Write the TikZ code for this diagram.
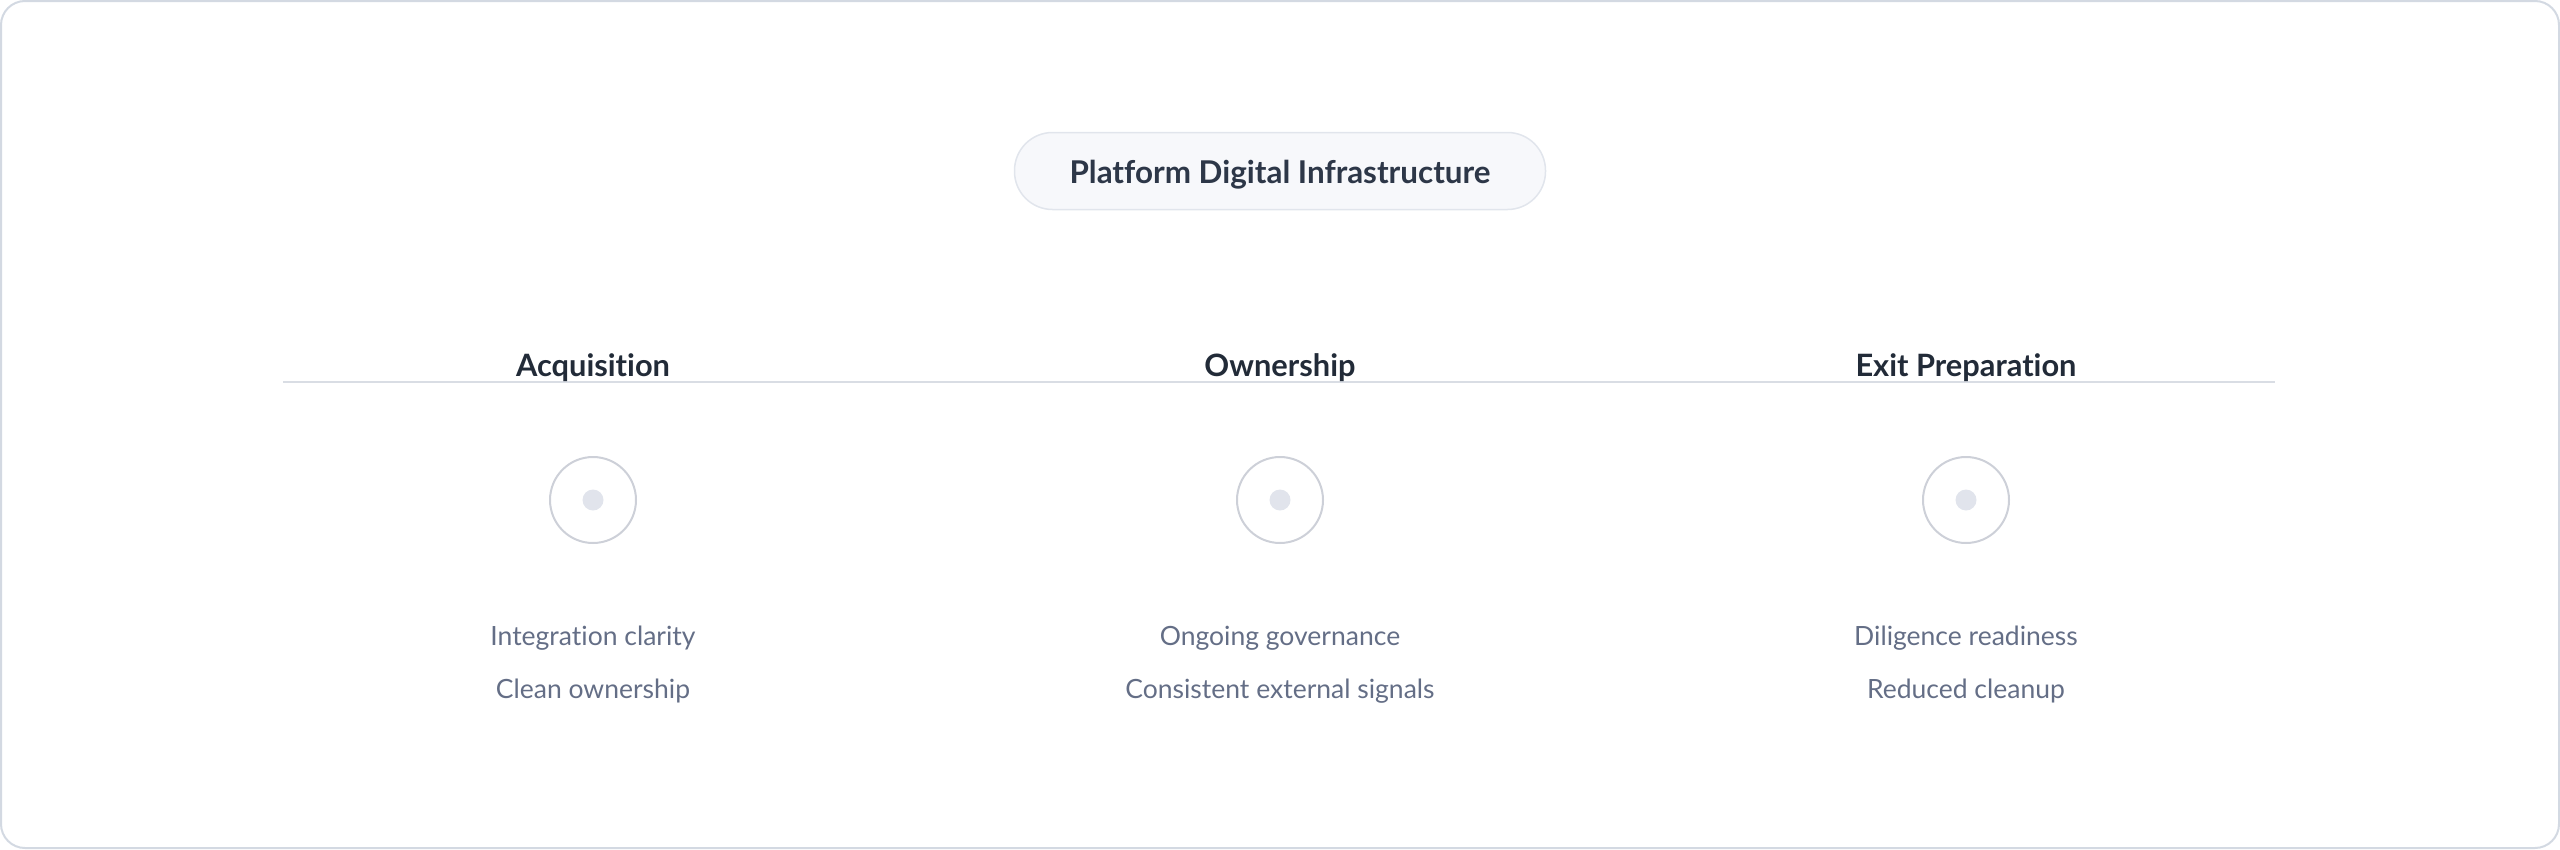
\documentclass[tikz,border=0pt]{standalone}
\usepackage{fontspec}
\setmainfont{Lato}[Ligatures=NoCommon]
\definecolor{frame}{HTML}{D3D9E2}
\definecolor{pillfill}{HTML}{F7F8FB}
\definecolor{pilldraw}{HTML}{E1E5EC}
\definecolor{titletext}{HTML}{2D3748}
\definecolor{headtext}{HTML}{222B38}
\definecolor{bodytext}{HTML}{646E86}
\definecolor{rule}{HTML}{D9DDE4}
\definecolor{ring}{HTML}{CDD0D8}
\definecolor{dot}{HTML}{E1E4EC}
\tikzset{
  pill/.style={draw=pilldraw, line width=1.5pt, fill=pillfill, rounded corners=38pt,
    minimum width=531pt, minimum height=77pt, inner sep=0pt},
  pilltext/.style={anchor=base, inner sep=0pt, text=titletext, font=\fontsize{31.4}{36}\selectfont\bfseries},
  phase/.style={anchor=base, text=headtext, inner sep=0pt, font=\fontsize{30.8}{36}\selectfont\bfseries},
  ringnode/.style={circle, draw=ring, line width=2pt, minimum size=86pt, inner sep=0pt},
  dotnode/.style={circle, fill=dot, minimum size=21pt, inner sep=0pt},
  item/.style={anchor=base, text=bodytext, inner sep=0pt, font=\fontsize{26.5}{30}\selectfont},
}
\begin{document}
\begin{tikzpicture}[x=1pt,y=-1pt]
\useasboundingbox (0,0) rectangle (2560,849);
\draw[frame, line width=2pt, rounded corners=24pt] (1,1) rectangle (2559,848);
\node[pill] (title) at (1280,171) {};
\node[pilltext] (titletxt) at (1280,183) {Platform Digital Infrastructure};
\coordinate (ruleL) at (283,382);
\coordinate (ruleR) at (2275,382);
\draw[rule, line width=1.5pt] (ruleL) -- (ruleR);
\node[phase] (h1) at (593,376) {Acquisition};
\node[phase] (h2) at (1280,376) {Ownership};
\node[phase] (h3) at (1966,376) {Exit Preparation};
\foreach \n/\x in {1/593,2/1280,3/1966}{
  \node[ringnode] (r\n) at (\x,500) {};
  \node[dotnode] (d\n) at (r\n.center) {};
}
\node[item] (a1) at (593,645) {Integration clarity};
\node[item] (a2) at (593,698) {Clean ownership};
\node[item] (b1) at (1280,645) {Ongoing governance};
\node[item] (b2) at (1280,698) {Consistent external signals};
\node[item] (c1) at (1966,645) {Diligence readiness};
\node[item] (c2) at (1966,698) {Reduced cleanup};
\end{tikzpicture}
\end{document}
